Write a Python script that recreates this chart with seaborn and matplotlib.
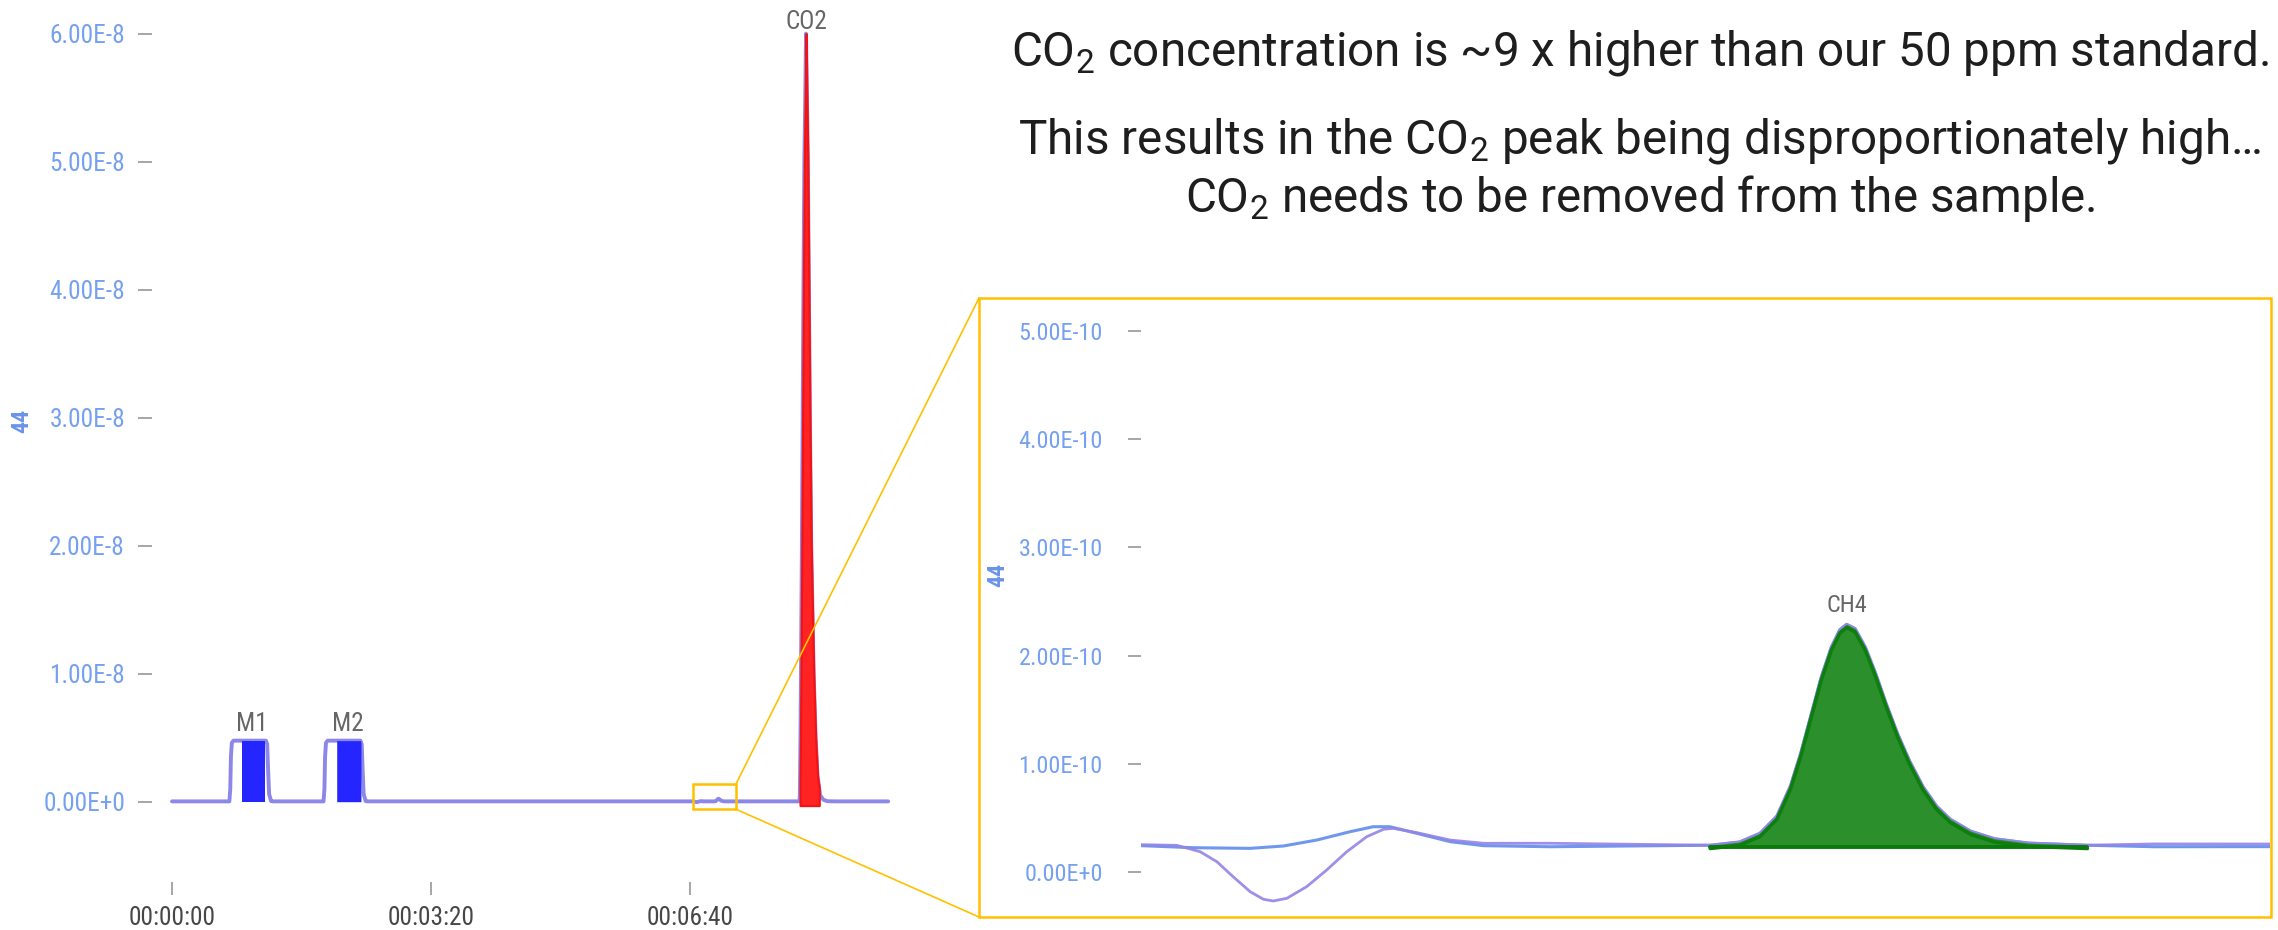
import os
import numpy as np
import matplotlib
matplotlib.use("Agg")
import matplotlib.pyplot as plt
import seaborn as sns
from matplotlib import font_manager as fm
from matplotlib.font_manager import FontProperties
from matplotlib.patches import Rectangle, ConnectionPatch
from matplotlib.ticker import FuncFormatter

# ---------------------------------------------------------------------------
# Chromatogram data: time in seconds, ion current (m/z 44) in units of 1e-10 A
# ---------------------------------------------------------------------------
SIGNAL_UNIT = 1e-10

baseline_time = [0.0, 553.0]
baseline_signal = [0.25, 0.25]

# reference-gas pulses M1 and M2 (flat-topped)
m1_time = [44.3, 45.0, 45.5, 46.2, 47.5, 72.5, 73.5, 74.2, 75.0, 76.5, 78.0]
m1_signal = [0.25, 10.0, 35.0, 46.0, 47.7, 47.7, 45.0, 25.0, 6.0, 0.5, 0.25]
m2_time = [117.0, 117.7, 118.2, 118.9, 120.2, 145.5, 146.5, 147.2, 148.0, 149.5, 151.0]
m2_signal = [0.25, 10.0, 35.0, 46.0, 47.7, 47.7, 45.0, 25.0, 6.0, 0.5, 0.25]

# baseline drift just before the CH4 peak (two overlaid traces)
purple_drift_time = [401.2, 402.25, 402.94, 403.43, 403.91, 404.41, 404.80, 405.09,
                     405.49, 406.07, 406.66, 407.25, 407.84, 408.33, 408.62, 409.31,
                     410.29, 411.27, 413.23]
purple_drift_signal = [0.255, 0.249, 0.19, 0.098, -0.041, -0.179, -0.249, -0.265,
                       -0.240, -0.133, 0.021, 0.190, 0.329, 0.397, 0.406, 0.366,
                       0.298, 0.268, 0.268]
blue_drift_time = [401.2, 402.74, 404.41, 405.39, 406.37, 407.35, 408.03, 408.52,
                   409.31, 410.29, 411.27, 413.23]
blue_drift_signal = [0.246, 0.227, 0.221, 0.243, 0.298, 0.375, 0.421, 0.421,
                     0.360, 0.283, 0.246, 0.236]
purple_tail_time, purple_tail_signal = [431.0], [0.262]
blue_tail_time, blue_tail_signal = [431.0], [0.236]

# CH4 peak
ch4_time = [417.94, 418.8, 419.4, 419.9, 420.3, 420.6, 420.9, 421.2, 421.5, 421.75,
            421.95, 422.2, 422.5, 422.8, 423.1, 423.45, 423.8, 424.2, 424.6, 425.0,
            425.6, 426.3, 427.3, 429.03]
ch4_signal = [0.25, 0.28, 0.36, 0.52, 0.80, 1.10, 1.45, 1.80, 2.08, 2.24,
              2.29, 2.25, 2.08, 1.84, 1.57, 1.28, 1.03, 0.79, 0.61, 0.49,
              0.38, 0.31, 0.27, 0.25]

# CO2 peak
co2_time = [480.0, 484.5, 484.8, 485.0, 485.3, 485.7, 486.4, 487.0, 487.6, 488.3,
            489.0, 489.6, 490.3, 491.0, 491.8, 492.6, 493.6, 495.5, 497.0, 498.5,
            500.5, 503.0, 506.0, 512.0]
co2_signal = [0.25, 0.25, 5.0, 20.0, 50.0, 100.0, 200.0, 300.0, 400.0, 500.0,
              550.0, 600.0, 550.0, 500.0, 400.0, 300.0, 200.0, 100.0, 50.0, 20.0,
              5.0, 1.5, 0.4, 0.25]

# integration windows of the labelled peaks
peak_names = ["M1", "M2", "CH4", "CO2"]
peak_apex_time = [61.5, 136.1, 421.95, 489.6]
peak_window_start = [53.8, 127.2, 417.94, 485.0]
peak_window_end = [72.2, 145.9, 429.03, 499.8]
co2_fill_floor = -3.0

# axis ticks
x_tick_values = [0, 200, 400]
x_tick_labels = ["00:00:00", "00:03:20", "00:06:40"]
main_y_ticks = [0.0, 1e-8, 2e-8, 3e-8, 4e-8, 5e-8, 6e-8]
zoom_y_ticks = [0.0, 1e-10, 2e-10, 3e-10, 4e-10, 5e-10]

# zoomed window (time in s, signal in 1e-10 A)
zoom_time_range = (401.2, 434.4)
zoom_box_time = (402.5, 435.5)
zoom_box_signal = (-5.9, 13.8)

notes = [
    r"CO$_\mathregular{2}$ concentration is ~9 x higher than our 50 ppm standard.",
    r"This results in the CO$_\mathregular{2}$ peak being disproportionately high…",
    r"CO$_\mathregular{2}$ needs to be removed from the sample.",
]

# ---------------------------------------------------------------------------
sns.set_theme(style="white")
plt.rcParams["font.family"] = ["DejaVu Sans"]


def pick_chart_font():
    """Prefer a narrow sans face for the instrument-style labels."""
    preferred = ["liberation sans narrow", "noto sans", "open sans", "roboto", "dejavu sans", "lato"]
    regular, bold = [], []
    for f in fm.fontManager.ttflist:
        label = (f.name + " " + os.path.basename(f.fname)).lower()
        if f.style != "normal" or "mono" in label or "serif" in label.replace("sans", ""):
            continue
        narrow = any(k in label for k in ("narrow", "condensed")) or \
            str(f.stretch) in ("condensed", "semi-condensed", "extra-condensed")
        if not narrow or "extra" in label or "ultra" in label:
            continue
        rank = next((i for i, p in enumerate(preferred) if label.startswith(p)), len(preferred))
        w = f.weight if isinstance(f.weight, (int, float)) else fm.weight_dict.get(f.weight, 400)
        if 350 <= w <= 450:
            regular.append((rank, "semi" in label, f))
        elif w >= 600 and w <= 750:
            bold.append((rank, "semi" in label, f))
    if not regular:
        return FontProperties(family="DejaVu Sans"), FontProperties(family="DejaVu Sans", weight="bold")
    regular.sort(key=lambda r: (r[0], r[1]))
    reg = regular[0][2]
    same = [b for b in bold if b[2].name == reg.name]
    same.sort(key=lambda r: r[1])
    bld = FontProperties(fname=same[0][2].fname) if same else FontProperties(fname=reg.fname, weight="bold")
    return FontProperties(fname=reg.fname), bld


chart_prop, chart_bold = pick_chart_font()

W, H, DPI = 2278, 930, 100
fig = plt.figure(figsize=(W / DPI, H / DPI), dpi=DPI)
fig.patch.set_facecolor("white")

# size the chart font so "6.00E-8" is ~78 px wide with ~18 px capitals
renderer = fig.canvas.get_renderer()
probe = chart_prop.copy()
probe.set_size(20)
w20, _, _ = renderer.get_text_width_height_descent("6.00E-8", probe, ismath=False)
_, h20, _ = renderer.get_text_width_height_descent("E", probe, ismath=False)
size_w = 20 * 78 / w20
size_h = 20 * 18 / h20
CHART_SIZE = size_w ** 0.4 * size_h ** 0.6


def chart_font(scale=1.0, bold=False):
    p = (chart_bold if bold else chart_prop).copy()
    p.set_size(CHART_SIZE * scale)
    return p


TICK_BLUE = "#76a0f0"
LABEL_BLUE = "#6b93ea"
TICK_GREY = "#a6a6a6"
PEAK_GREY = "#666666"
TIME_GREY = "#474747"
PURPLE = "#9583e6"
BLUE = "#6f97ee"
GOLD = "#FFC000"


def assemble(*segments):
    t = np.concatenate([np.asarray(s[0], float) for s in segments])
    v = np.concatenate([np.asarray(s[1], float) for s in segments])
    order = np.argsort(t, kind="stable")
    return t[order], v[order] * SIGNAL_UNIT


common = [(baseline_time, baseline_signal), (m1_time, m1_signal), (m2_time, m2_signal),
          (ch4_time, ch4_signal), (co2_time, co2_signal)]
t_purple, s_purple = assemble(*common, (purple_drift_time, purple_drift_signal),
                              (purple_tail_time, purple_tail_signal))
t_blue, s_blue = assemble(*common, (blue_drift_time, blue_drift_signal),
                          (blue_tail_time, blue_tail_signal))


def window(t, v, t0, t1):
    inside = (t > t0) & (t < t1)
    tt = np.concatenate([[t0], t[inside], [t1]])
    return tt, np.interp(tt, t, v)


def sci_fmt(v, _pos=None):
    if v == 0:
        return "0.00E+0"
    mant, exp = f"{v:.2E}".split("E")
    return f"{mant}E{int(exp)}"


def px_axes(left, top, right, bottom):
    return fig.add_axes([left / W, 1 - bottom / H, (right - left) / W, (bottom - top) / H])


ax = px_axes(152, 10, 900, 882)
ax2 = px_axes(1141, 300, 2270, 915)

# ---------------------------- main chromatogram ----------------------------
sns.lineplot(x=t_purple, y=s_purple, ax=ax, color=PURPLE, lw=2.8, estimator=None, sort=False)
sns.lineplot(x=t_blue, y=s_blue, ax=ax, color=BLUE, lw=1.0, alpha=0.5, estimator=None, sort=False)

for name, t0, t1 in zip(peak_names, peak_window_start, peak_window_end):
    if name.startswith("M"):
        tt, vv = window(t_purple, s_purple, t0, t1)
        ax.fill_between(tt, 0, vv, color="#2525ff", lw=0, zorder=3)
    elif name == "CO2":
        tt, vv = window(t_purple, s_purple, t0, t1)
        ax.fill_between(tt, co2_fill_floor * SIGNAL_UNIT, vv, facecolor="#ff2323",
                        edgecolor="#f21414", lw=1.6, zorder=3)

for name, tp in zip(peak_names, peak_apex_time):
    if name == "CH4":
        continue
    yp = np.interp(tp, t_purple, s_purple)
    off = 3.2 if name == "CO2" else 7.0
    ax.annotate(name, (tp, yp), xytext=(0, off), textcoords="offset points",
                ha="center", va="baseline", color=PEAK_GREY, fontproperties=chart_font(),
                annotation_clip=False)

ax.set_xlim((152 - 172) / 1.295, (900 - 172) / 1.295)
ax.set_ylim((801.7 - 882) / 128 * 1e-8, (801.7 - 10) / 128 * 1e-8)
ax.set_xticks(x_tick_values, labels=x_tick_labels)
ax.set_yticks(main_y_ticks)
ax.yaxis.set_major_formatter(FuncFormatter(sci_fmt))
ax.tick_params(axis="y", left=True, direction="out", length=10, width=1.4, color=TICK_GREY,
               pad=9.4, labelcolor=TICK_BLUE)
ax.tick_params(axis="x", bottom=True, direction="out", length=9.5, width=1.4, color=TICK_GREY,
               pad=8.0, labelcolor=TIME_GREY)
ax.set_xlabel("")
ax.set_ylabel("44", color=LABEL_BLUE, fontproperties=chart_font(0.95, bold=True))
ax.yaxis.set_label_coords((33 - 152) / 748, (882 - 421) / 872)
for sp in ax.spines.values():
    sp.set_visible(False)
ax.set_facecolor("none")

# zoom marker on the main chart
ax.add_patch(Rectangle((zoom_box_time[0], zoom_box_signal[0] * SIGNAL_UNIT),
                       zoom_box_time[1] - zoom_box_time[0],
                       (zoom_box_signal[1] - zoom_box_signal[0]) * SIGNAL_UNIT,
                       fill=False, ec=GOLD, lw=1.8, zorder=6, clip_on=False))

# ---------------------------- zoomed chromatogram ----------------------------
sns.lineplot(x=t_blue, y=s_blue, ax=ax2, color=BLUE, lw=2.2, estimator=None, sort=False)
sns.lineplot(x=t_purple, y=s_purple, ax=ax2, color=PURPLE, lw=2.0, alpha=0.9, estimator=None, sort=False)

i_ch4 = peak_names.index("CH4")
t0, t1 = peak_window_start[i_ch4], peak_window_end[i_ch4]
tt, vv = window(t_purple, s_purple, t0, t1)
base = np.interp(tt, [t0, t1], [vv[0], vv[-1]]) - 0.012 * SIGNAL_UNIT
ax2.fill_between(tt, base, vv, color="#2b8f2b", lw=0, zorder=3)
ax2.plot(tt, vv - 0.03 * SIGNAL_UNIT, color="#0e7f0e", lw=2.6, zorder=4)
ax2.plot(tt, base, color="#0a7a0a", lw=2.8, zorder=4)
ax2.annotate("CH4", (peak_apex_time[i_ch4], np.interp(peak_apex_time[i_ch4], t_purple, s_purple)),
             xytext=(0, 8.6), textcoords="offset points", ha="center", va="baseline",
             color=PEAK_GREY, fontproperties=chart_font(0.95), annotation_clip=False)

ax2.set_xlim(*zoom_time_range)
ax2.set_ylim((872.3 - 915) / 108.3 * 1e-10, (872.3 - 300) / 108.3 * 1e-10)
ax2.set_yticks(zoom_y_ticks)
ax2.yaxis.set_major_formatter(FuncFormatter(sci_fmt))
ax2.tick_params(axis="y", left=True, direction="out", length=9.5, width=1.4, color=TICK_GREY,
                pad=18, labelcolor=TICK_BLUE)
ax2.tick_params(axis="x", bottom=False, labelbottom=False)
ax2.set_xlabel("")
ax2.set_ylabel("44", color=LABEL_BLUE, fontproperties=chart_font(0.95, bold=True))
ax2.yaxis.set_label_coords((1009 - 1141) / 1129, (915 - 575) / 615)
for sp in ax2.spines.values():
    sp.set_visible(False)
ax2.set_facecolor("none")

# frame around the zoomed view and its connectors
fig.add_artist(Rectangle((979 / W, 1 - 917 / H), (2271 - 979) / W, (917 - 298) / H,
                         transform=fig.transFigure, fill=False, ec=GOLD, lw=1.8, zorder=10))
for corner_sig, fig_y in ((zoom_box_signal[1], 298), (zoom_box_signal[0], 917)):
    con = ConnectionPatch(xyA=(zoom_box_time[1], corner_sig * SIGNAL_UNIT), coordsA=ax.transData,
                          xyB=(979 / W, 1 - fig_y / H), coordsB=fig.transFigure,
                          color=GOLD, lw=1.2, zorder=10)
    fig.add_artist(con)

# explanatory notes
for text, baseline_px in zip(notes, (65, 154, 212)):
    fig.text(1640 / W, 1 - baseline_px / H, text, ha="center", va="baseline",
             fontsize=34.3, family=["Roboto", "DejaVu Sans"], color="#1e1e1e")

# apply the chart face to all tick labels
fig.canvas.draw()
for a, scale in ((ax, 1.0), (ax2, 0.95)):
    for lab in a.get_xticklabels() + a.get_yticklabels():
        lab.set_fontproperties(chart_font(scale))

fig.savefig("out.png", dpi=DPI, facecolor="white")
